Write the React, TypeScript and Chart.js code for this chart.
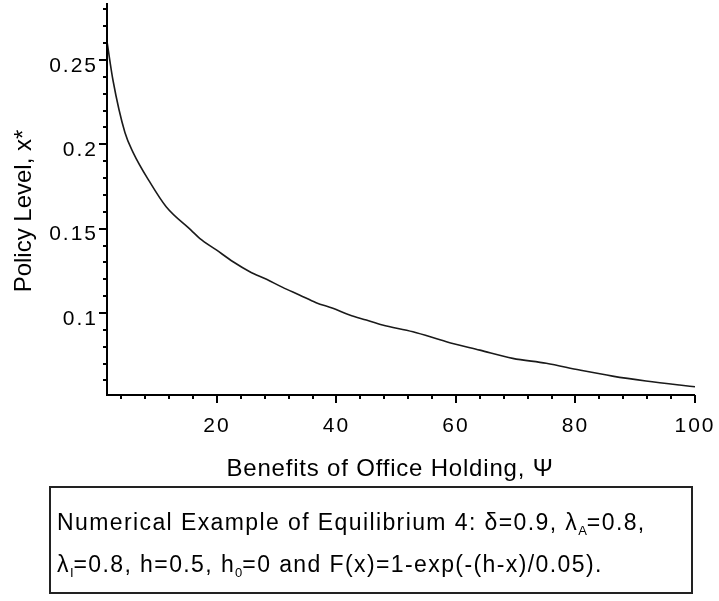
import React, { useEffect, useRef } from "react";
import { Chart, registerables } from "chart.js";

Chart.register(...registerables);

// Curve: Benefits of Office Holding (Ψ) vs Policy Level (x*)
const xValues = [1.6, 2.6, 4.6, 6, 8.7, 11.5, 15.7, 17.1, 19.9, 22.7, 25.5, 28.3, 31, 33.8, 36.6, 39.4, 42.2, 45, 47.7, 52.8, 58.4, 64, 69.5, 75.1, 80.7, 86.2, 91.8, 97.4, 100];
const yValues = [0.261, 0.238, 0.207, 0.195, 0.178, 0.163, 0.149, 0.1443, 0.1374, 0.1304, 0.1245, 0.12, 0.1152, 0.1107, 0.1061, 0.1028, 0.0988, 0.0958, 0.0929, 0.0889, 0.083, 0.078, 0.0731, 0.0702, 0.0662, 0.0626, 0.0597, 0.0573, 0.0563];

const xMajorTicks = [20, 40, 60, 80, 100];
const xMinorTicks = [4, 8, 12, 16, 24, 28, 32, 36, 44, 48, 52, 56, 64, 68, 72, 76, 84, 88, 92, 96];
const yMajorTicks = [0.1, 0.15, 0.2, 0.25];
const yTickLabels = ["0.1", "0.15", "0.2", "0.25"];
const yMinorTicks = [0.06, 0.07, 0.08, 0.09, 0.11, 0.12, 0.13, 0.14, 0.16, 0.17, 0.18, 0.19, 0.21, 0.22, 0.23, 0.24, 0.26, 0.27, 0.28];

const xRange = [1.6, 100];
const yRange = [0.0514, 0.2838];

const xTitle = "Benefits of Office Holding, Ψ";
const yTitle = "Policy Level, x*";

const FONT = "'Liberation Sans', Arial, Helvetica, sans-serif";

const axesPlugin = {
  id: "mapleAxes",
  beforeDraw(chart: any) {
    chart.ctx.letterSpacing = "2px";
  },
  afterDatasetsDraw(chart: any) {
    const { ctx, chartArea: a, scales } = chart;
    const x = scales.x;
    const y = scales.y;
    ctx.save();
    ctx.strokeStyle = "#000";
    ctx.lineWidth = 2;
    ctx.beginPath();
    ctx.moveTo(a.left, a.top);
    ctx.lineTo(a.left, a.bottom);
    ctx.lineTo(a.right, a.bottom);
    ctx.stroke();
    ctx.beginPath();
    for (const v of xMajorTicks) {
      const px = Math.round(x.getPixelForValue(v));
      ctx.moveTo(px, a.bottom);
      ctx.lineTo(px, a.bottom + 8);
    }
    for (const v of xMinorTicks) {
      const px = Math.round(x.getPixelForValue(v));
      ctx.moveTo(px, a.bottom);
      ctx.lineTo(px, a.bottom + 4);
    }
    for (const v of yMajorTicks) {
      const py = Math.round(y.getPixelForValue(v));
      ctx.moveTo(a.left, py);
      ctx.lineTo(a.left - 8, py);
    }
    for (const v of yMinorTicks) {
      const py = Math.round(y.getPixelForValue(v));
      ctx.moveTo(a.left, py);
      ctx.lineTo(a.left - 4, py);
    }
    ctx.stroke();
    ctx.restore();
  },
};

export default function App() {
  const canvasRef = useRef<HTMLCanvasElement | null>(null);

  useEffect(() => {
    if (!canvasRef.current) return;
    const chart = new Chart(canvasRef.current, {
      type: "line",
      data: {
        datasets: [
          {
            data: xValues.map((x, i) => ({ x, y: yValues[i] })),
            borderColor: "#1a1a1a",
            borderWidth: 1.6,
            pointRadius: 0,
            fill: false,
            cubicInterpolationMode: "monotone",
          },
        ],
      },
      options: {
        responsive: false,
        animation: false,
        devicePixelRatio: 1,
        layout: { padding: { left: 0, right: 24, top: 3, bottom: 163 } },
        plugins: { legend: { display: false }, tooltip: { enabled: false } },
        scales: {
          x: {
            type: "linear",
            min: xRange[0],
            max: xRange[1],
            grid: { display: false, drawTicks: true, tickLength: 8 },
            border: { display: false },
            afterBuildTicks: (s: any) => {
              s.ticks = xMajorTicks.map((v) => ({ value: v }));
            },
            ticks: {
              color: "#000",
              autoSkip: false,
              maxRotation: 0,
              padding: 11,
              font: { family: FONT, size: 21 },
              callback: (v: any) => String(v),
            },
            afterFit: (s: any) => {
              s.height = 43;
              s.paddingLeft = 0;
              s.paddingRight = 0;
            },
          },
          y: {
            type: "linear",
            min: yRange[0],
            max: yRange[1],
            grid: { display: false, drawTicks: true, tickLength: 8 },
            border: { display: false },
            afterBuildTicks: (s: any) => {
              s.ticks = yMajorTicks.map((v) => ({ value: v }));
            },
            ticks: {
              color: "#000",
              autoSkip: false,
              padding: 1,
              labelOffset: 6,
              font: { family: FONT, size: 21 },
              callback: (v: any) => {
                const i = yMajorTicks.findIndex((t) => Math.abs(t - v) < 1e-9);
                return i >= 0 ? yTickLabels[i] : "";
              },
            },
            afterFit: (s: any) => {
              s.width = 107;
              s.paddingTop = 0;
              s.paddingBottom = 0;
            },
          },
        },
      },
      plugins: [axesPlugin],
    } as any);
    return () => chart.destroy();
  }, []);

  const subStyle: React.CSSProperties = { fontSize: 13, verticalAlign: -5, lineHeight: 0, letterSpacing: 0 };

  return (
    <div style={{ position: "fixed", left: 0, top: 0, width: 719, height: 601, background: "#fff", overflow: "hidden" }}>
      <canvas ref={canvasRef} width={719} height={601} style={{ position: "absolute", left: 0, top: 0 }} />
      <div
        style={{
          position: "absolute",
          left: -77,
          top: 199,
          width: 200,
          height: 24,
          lineHeight: "24px",
          textAlign: "center",
          transform: "rotate(-90deg)",
          fontFamily: FONT,
          fontSize: 24,
          color: "#000",
          whiteSpace: "nowrap",
        }}
      >
        {yTitle}
      </div>
      <div
        style={{
          position: "absolute",
          left: 190,
          top: 456,
          width: 400,
          height: 24,
          lineHeight: "24px",
          textAlign: "center",
          fontFamily: FONT,
          fontSize: 24,
          letterSpacing: 0.8,
          color: "#000",
          whiteSpace: "nowrap",
        }}
      >
        {xTitle}
      </div>
      <div
        style={{
          position: "absolute",
          left: 49,
          top: 486,
          width: 644,
          height: 108,
          boxSizing: "border-box",
          border: "2px solid #222",
          padding: "13px 0 0 6px",
          fontFamily: FONT,
          fontSize: 23,
          lineHeight: "42px",
          letterSpacing: 1.4,
          color: "#000",
          whiteSpace: "nowrap",
        }}
      >
        Numerical Example of Equilibrium 4: δ=0.9, λ<sub style={subStyle}>A</sub>=0.8,
        <br />
        λ<sub style={subStyle}>I</sub>=0.8, h=0.5, h<sub style={subStyle}>0</sub>=0 and F(x)=1-exp(-(h-x)/0.05).
      </div>
    </div>
  );
}
